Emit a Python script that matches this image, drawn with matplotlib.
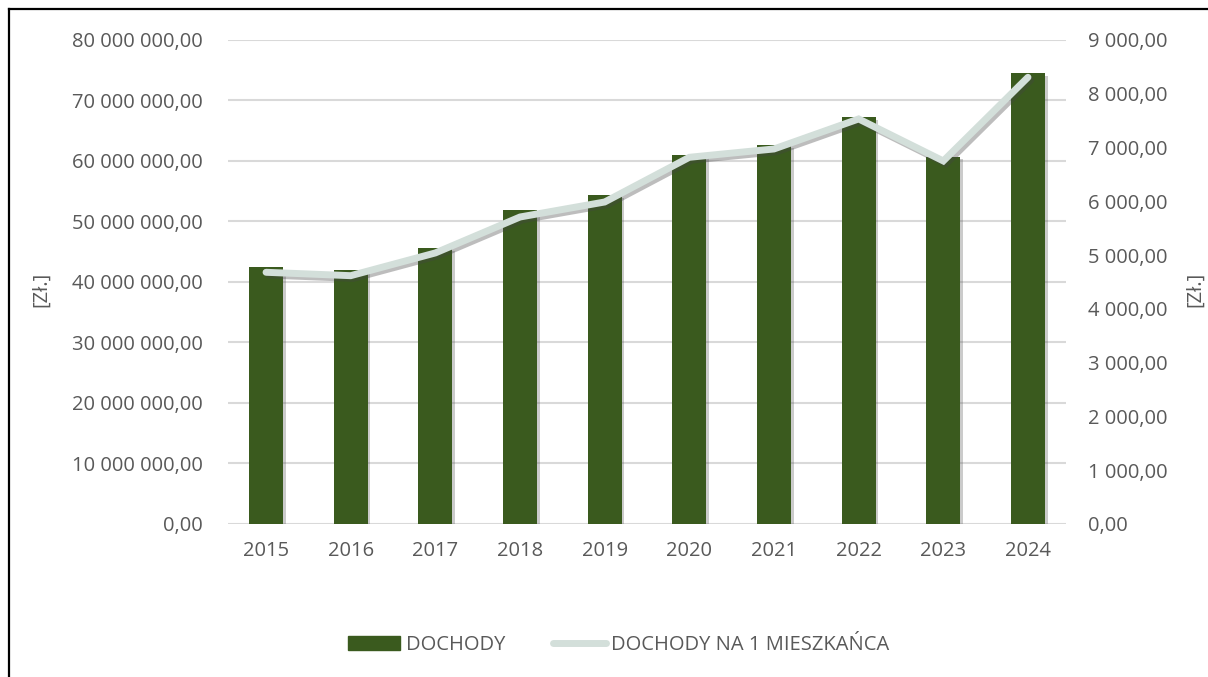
import matplotlib.pyplot as plt
import matplotlib.patheffects as pe
from matplotlib.lines import Line2D
from matplotlib.ticker import FuncFormatter, MultipleLocator

# Dochody gminy i dochody na 1 mieszkańca
years = ["2015", "2016", "2017", "2018", "2019", "2020", "2021", "2022", "2023", "2024"]
dochody = [42.5e6, 42.0e6, 45.6e6, 51.9e6, 54.4e6, 61.0e6, 62.6e6, 67.3e6, 60.7e6, 74.5e6]
na_mieszkanca = [4680, 4617, 5040, 5708, 5987, 6818, 6973, 7531, 6750, 8306]

BAR = "#3A5A1E"
LINE = "#D3DFDA"
TXT = "#595959"
GRID = "#D9D9D9"
FS = 14.5

plt.rcParams["font.family"] = ["Open Sans", "DejaVu Sans"]


def pl_fmt(v, pos):
    s = f"{v:,.2f}"
    return s.replace(",", " ").replace(".", ",")


fig = plt.figure(figsize=(12.08, 6.77), dpi=100)
ax = fig.add_axes([0.1887, 0.226, 0.6938, 0.715])
ax2 = ax.twinx()

x = range(len(years))
bars = ax.bar(x, dochody, width=0.4, color=BAR, zorder=2,
              path_effects=[pe.SimplePatchShadow(offset=(2, -2), shadow_rgbFace="#555555", alpha=0.3),
                            pe.Normal()])
ax2.plot(x, na_mieszkanca, color=LINE, lw=5, solid_capstyle="round", solid_joinstyle="miter", zorder=3,
         path_effects=[pe.SimpleLineShadow(offset=(2, -2), shadow_color="#444444", alpha=0.35),
                       pe.Normal()])

ax.set_ylim(0, 80e6)
ax2.set_ylim(0, 9000)
ax.set_xlim(-0.45, len(years) - 0.55)
ax.yaxis.set_major_locator(MultipleLocator(10e6))
ax2.yaxis.set_major_locator(MultipleLocator(1000))
ax.yaxis.set_major_formatter(FuncFormatter(pl_fmt))
ax2.yaxis.set_major_formatter(FuncFormatter(pl_fmt))
ax.grid(axis="y", color=GRID, lw=1.5, zorder=0)
ax.set_axisbelow(True)

ax.set_xticks(list(x))
ax.set_xticklabels(years)
for a in (ax, ax2):
    for sp in a.spines.values():
        sp.set_visible(False)
    a.tick_params(length=0, labelsize=FS, colors=TXT)
ax.tick_params(axis="y", pad=18)
ax2.tick_params(axis="y", pad=16)
ax.tick_params(axis="x", pad=12)

# opisy osi
fig.text(0.034, 0.572, "[Zł.]", rotation=90, color=TXT, fontsize=FS, ha="center", va="center")
fig.text(0.989, 0.572, "[Zł.]", rotation=90, color=TXT, fontsize=FS, ha="center", va="center")

handles = [plt.Rectangle((0, 0), 1, 1, color=BAR),
           Line2D([0], [0], color=LINE, lw=5, solid_capstyle="round")]
fig.legend(handles, ["DOCHODY", "DOCHODY NA 1 MIESZKAŃCA"], loc="center",
           bbox_to_anchor=(0.512, 0.047), ncol=2, frameon=False, fontsize=FS,
           labelcolor=TXT, handlelength=2.6, handletextpad=0.25, columnspacing=2.4)

# ramka wykresu
fig.add_artist(Line2D([0.0075, 0.0075], [0, 0.986], color="black", lw=1.6))
fig.add_artist(Line2D([0.0075, 1], [0.986, 0.986], color="black", lw=1.6))

fig.savefig("out.png", dpi=100)
